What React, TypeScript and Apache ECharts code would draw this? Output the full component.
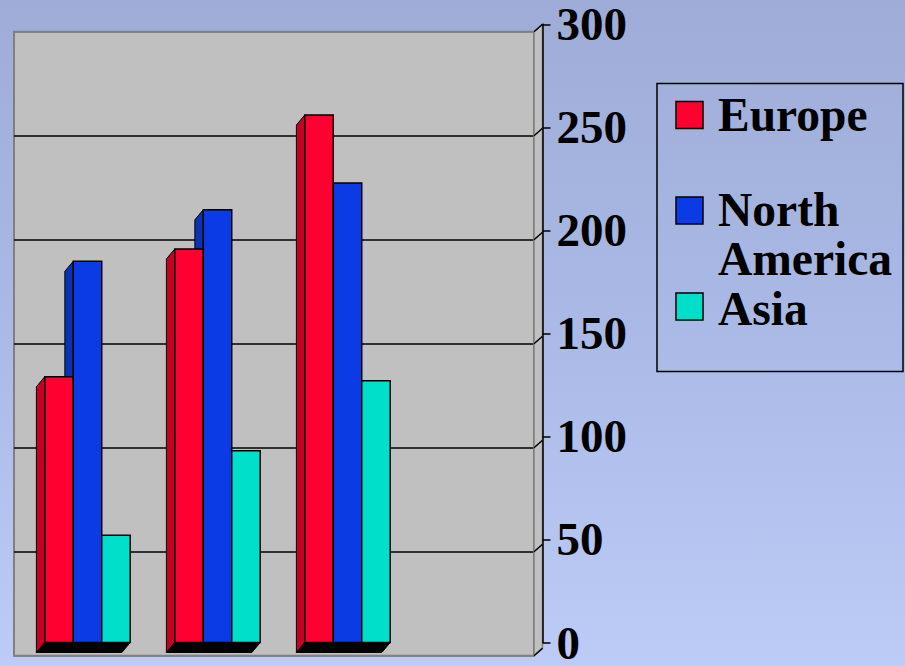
import React, { useEffect, useRef } from 'react';
import * as echarts from 'echarts';

const categories = ['Q1', 'Q2', 'Q3', 'Q4'];
const seriesNames = ['Europe', 'North America', 'Asia'];
const europe = [129, 191, 256];
const northAmerica = [185, 210, 223];
const asia = [52, 93, 127];
const yTicks = [0, 50, 100, 150, 200, 250, 300];

const frontColors = ['#ff0030', '#0a3be4', '#00dfc9'];
const sideColors = ['#c40024', '#0a33b0', '#00a898'];
const FONT = '"Times New Roman", "Liberation Serif", serif';
const BAR_FRAC = 0.219;
const DX = -8.4;
const DY = 10;

function barGeom(api: any, s: number) {
  const i = api.value(0);
  const v = api.value(1);
  const p0 = api.coord([i, 0]);
  const p1 = api.coord([i, v]);
  const band = api.size([1, 0])[0];
  const w = band * BAR_FRAC;
  const x0 = p0[0] - 1.5 * w + s * w;
  return { x0, w, base: p0[1], top: p1[1] };
}

function frontRender(s: number) {
  return (params: any, api: any) => {
    const { x0, w, base, top } = barGeom(api, s);
    return {
      type: 'group',
      children: [
        {
          type: 'polygon',
          shape: { points: [[x0, base], [x0 + w, base], [x0 + w + DX, base + DY], [x0 + DX, base + DY]] },
          style: { fill: '#000', stroke: '#000', lineWidth: 1 },
        },
        {
          type: 'rect',
          shape: { x: x0, y: top, width: w, height: base - top },
          style: { fill: frontColors[s], stroke: '#000', lineWidth: 1.5 },
        },
      ],
    };
  };
}

function sideRender(s: number) {
  return (params: any, api: any) => {
    const { x0, base, top } = barGeom(api, s);
    return {
      type: 'polygon',
      shape: { points: [[x0, top], [x0 + DX, top + DY], [x0 + DX, base + DY], [x0, base]] },
      style: { fill: sideColors[s], stroke: '#000', lineWidth: 1 },
    };
  };
}

export default function App() {
  const ref = useRef<HTMLDivElement>(null);
  useEffect(() => {
    const chart = echarts.init(ref.current!, null, { renderer: 'svg' });
    const allValues = [europe, northAmerica, asia];

    const wallLeft = 14, wallTop = 31.7, wallW = 520, wallH = 624;
    const frontLeft = 22.5, frontTop = 24.3;
    const wallRight = wallLeft + wallW;
    const frontRight = frontLeft + wallW;

    const series: any[] = [];
    allValues.forEach((vals, s) => {
      series.push({
        type: 'custom',
        name: seriesNames[s] + ' side',
        xAxisIndex: 1,
        yAxisIndex: 1,
        z: 2,
        silent: true,
        clip: false,
        renderItem: sideRender(s),
        data: vals.map((v, i) => [i, v]),
      });
    });
    allValues.forEach((vals, s) => {
      series.push({
        type: 'custom',
        name: seriesNames[s],
        xAxisIndex: 1,
        yAxisIndex: 1,
        z: 3,
        clip: false,
        renderItem: frontRender(s),
        data: vals.map((v, i) => [i, v]),
      });
    });
    series.push({
      type: 'custom',
      name: 'ticks',
      xAxisIndex: 0,
      yAxisIndex: 0,
      z: 4,
      silent: true,
      clip: false,
      renderItem: (params: any, api: any) => {
        const y = api.coord([0, api.value(1)])[1];
        const cs = params.coordSys;
        const x = cs.x + cs.width;
        return {
          type: 'line',
          shape: { x1: x, y1: y, x2: x + (frontLeft - wallLeft), y2: y - (wallTop - frontTop) },
          style: { stroke: '#000', lineWidth: 1.5 },
        };
      },
      data: yTicks.map((v) => [0, v]),
    });

    const legendX = 657, legendY = 83.5;
    const swatchX = 676, textX = 718;
    const rowCenters = [115, 210.5, 306.5];
    const textCenters = [115, 234.5, 308.5];

    const option: any = {
      animation: false,
      backgroundColor: 'transparent',
      grid: [
        {
          left: wallLeft, top: wallTop, width: wallW, height: wallH,
          show: true, backgroundColor: '#c0c0c0', borderColor: '#808080', borderWidth: 2,
        },
        {
          left: frontLeft, top: frontTop, width: wallW, height: wallH,
          show: false,
        },
      ],
      xAxis: [
        { type: 'category', gridIndex: 0, data: categories, show: false },
        { type: 'category', gridIndex: 1, data: categories, show: false },
      ],
      yAxis: [
        {
          type: 'value', gridIndex: 0, min: 0, max: 300, interval: 50,
          axisLine: { show: false }, axisTick: { show: false }, axisLabel: { show: false },
          splitLine: {
            show: true,
            lineStyle: { color: ['#808080', '#000', '#000', '#000', '#000', '#000', '#808080'], width: 1.5 },
          },
        },
        {
          type: 'value', gridIndex: 1, min: 0, max: 300, interval: 50, position: 'right', z: 5,
          axisLine: { show: true, lineStyle: { color: '#000', width: 1.5 } },
          axisTick: { show: true, length: 8, lineStyle: { color: '#000', width: 1.5 } },
          axisLabel: {
            show: true, margin: 14, color: '#000', fontFamily: FONT, fontWeight: 'bold', fontSize: 47,
            lineHeight: 36,
          },
          splitLine: { show: false },
        },
      ],
      graphic: [
        {
          type: 'polygon', z: 1, silent: true,
          shape: {
            points: [
              [wallRight, wallTop], [frontRight, frontTop],
              [frontRight, frontTop + wallH], [wallRight, wallTop + wallH],
            ],
          },
          style: { fill: '#c0c0c0', stroke: '#808080', lineWidth: 1.5 },
        },
        {
          type: 'rect', z: 10, silent: true,
          shape: { x: legendX, y: legendY, width: 246, height: 288 },
          style: { fill: 'transparent', stroke: '#000', lineWidth: 1.5 },
        },
        ...seriesNames.map((n, s) => ({
          type: 'rect', z: 10, silent: true,
          shape: { x: swatchX, y: rowCenters[s] - 13.5, width: 27, height: 27 },
          style: { fill: frontColors[s], stroke: '#000', lineWidth: 1.5 },
        })),
        ...seriesNames.map((n, s) => ({
          type: 'text', z: 10, silent: true,
          x: textX,
          y: textCenters[s],
          style: {
            text: s === 1 ? 'North\nAmerica' : n,
            fill: '#000', fontFamily: FONT, fontWeight: 'bold', fontSize: 47.5,
            lineHeight: s === 1 ? 49 : 40, verticalAlign: 'middle', align: 'left',
          },
        })),
      ],
      series,
    };
    chart.setOption(option);
    return () => chart.dispose();
  }, []);
  return (
    <div
      ref={ref}
      style={{
        position: 'fixed', left: 0, top: 0, width: 905, height: 666,
        background: 'linear-gradient(to bottom, #9eacd7 0%, #abb9e6 50%, #bdcbf7 100%)',
      }}
    />
  );
}
